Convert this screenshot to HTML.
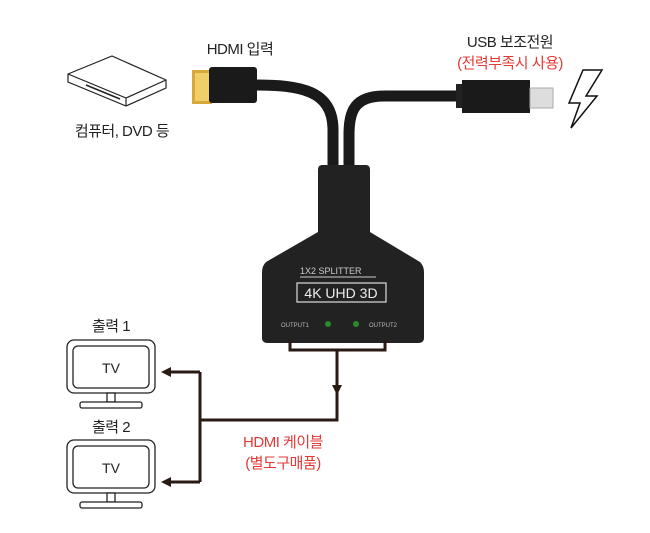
<!DOCTYPE html>
<html><head><meta charset="utf-8"><style>
body{margin:0;background:#fff;}
svg{display:block;font-family:"Liberation Sans","Noto Sans CJK KR",sans-serif;}
</style></head><body>
<svg width="650" height="533" viewBox="0 0 650 533" xmlns="http://www.w3.org/2000/svg">
<g letter-spacing="-0.5">
<text x="240" y="54" font-size="15" text-anchor="middle" fill="#222">HDMI 입력</text>
<text x="122" y="136" font-size="15" text-anchor="middle" fill="#222">컴퓨터, DVD 등</text>
<text x="510" y="47" font-size="15" text-anchor="middle" fill="#222">USB 보조전원</text>
<text x="510" y="68" font-size="15" text-anchor="middle" fill="#e53935">(전력부족시 사용)</text>
<text x="111" y="331" font-size="15" text-anchor="middle" fill="#222">출력 1</text>
<text x="111" y="432" font-size="15" text-anchor="middle" fill="#222">출력 2</text>
<text x="283" y="447" font-size="15" text-anchor="middle" fill="#e53935">HDMI 케이블</text>
<text x="283" y="468" font-size="15" text-anchor="middle" fill="#e53935">(별도구매품)</text>
</g>

<g fill="#fff" stroke="#222" stroke-width="1.2">
<path d="M68 74 L112 56 L166 80 L166 88 L126 106 L68 82 Z"/>
<path d="M68 74 L126 98 L166 80 M126 98 L126 106"/>
<path d="M86 85 L120 99" stroke-width="1.5"/>
</g>

<path d="M255 85 C300 85 333 90 333 130 L333 170" stroke="#1a1a1a" stroke-width="11" fill="none"/>
<path d="M465 96 L385 96 C355 96 349 110 349 135 L349 170" stroke="#1a1a1a" stroke-width="11" fill="none"/>
<rect x="192" y="70" width="20" height="34" fill="#d8a93a"/>
<rect x="195" y="73" width="14" height="28" fill="#f0cf6a"/>
<rect x="209" y="67" width="48" height="36" rx="3" fill="#1a1a1a"/>
<rect x="456" y="84" width="8" height="24" fill="#222"/>
<path d="M462 80 L530 80 L530 113 L462 113 Z" fill="#1a1a1a"/>
<rect x="530" y="88" width="23" height="20" fill="#ddd" stroke="#aaa"/>
<path d="M583 70 L602 70 L586 96 L597 96 L571 128 L580 103 L569 103 Z" fill="#fff" stroke="#111" stroke-width="1.5"/>

<path d="M322 165 L366 165 Q370 165 370 170 L370 232 L420 262 Q424 266 424 272 L424 338 Q424 343 418 343 L268 343 Q262 343 262 338 L262 272 Q262 266 266 262 L318 232 L318 170 Q318 165 322 165 Z" fill="#222"/>
<text x="300" y="274" font-size="9" fill="#ccc">1X2 SPLITTER</text>
<line x1="300" y1="277" x2="376" y2="277" stroke="#ccc" stroke-width="1"/>
<rect x="297" y="283" width="89" height="19" fill="none" stroke="#ddd" stroke-width="1.2"/>
<text x="341" y="298" font-size="14" text-anchor="middle" fill="#eee">4K UHD 3D</text>
<text x="281" y="327" font-size="6" fill="#bbb">OUTPUT1</text>
<text x="369" y="327" font-size="6" fill="#bbb">OUTPUT2</text>
<circle cx="328" cy="324" r="3" fill="#2a8a2a"/>
<circle cx="356" cy="324" r="3" fill="#2a8a2a"/>

<g stroke="#2a1a14" stroke-width="3" fill="none">
<path d="M290 340 L290 350 L385 350 L385 340"/>
<path d="M337 350 L337 420 L200 420"/>
<path d="M200 372 L200 482"/>
<path d="M200 372 L168 372"/>
<path d="M200 482 L168 482"/>
</g>
<path d="M332 385 L342 385 L337 395 Z" fill="#2a1a14"/>
<path d="M161 372 L171 367 L171 377 Z" fill="#2a1a14"/>
<path d="M161 482 L171 477 L171 487 Z" fill="#2a1a14"/>

<g fill="#fff" stroke="#222" stroke-width="1.3">
<rect x="67" y="340" width="88" height="53" rx="7"/>
<rect x="73" y="346" width="76" height="42" rx="5"/>
<rect x="107" y="393" width="8" height="9"/>
<rect x="80" y="402" width="62" height="6" rx="2"/>
<rect x="67" y="440" width="88" height="53" rx="7"/>
<rect x="73" y="446" width="76" height="42" rx="5"/>
<rect x="107" y="493" width="8" height="9"/>
<rect x="80" y="502" width="62" height="6" rx="2"/>
</g>
<text x="111" y="373" font-size="14" text-anchor="middle" fill="#222">TV</text>
<text x="111" y="473" font-size="14" text-anchor="middle" fill="#222">TV</text>
</svg>
</body></html>
